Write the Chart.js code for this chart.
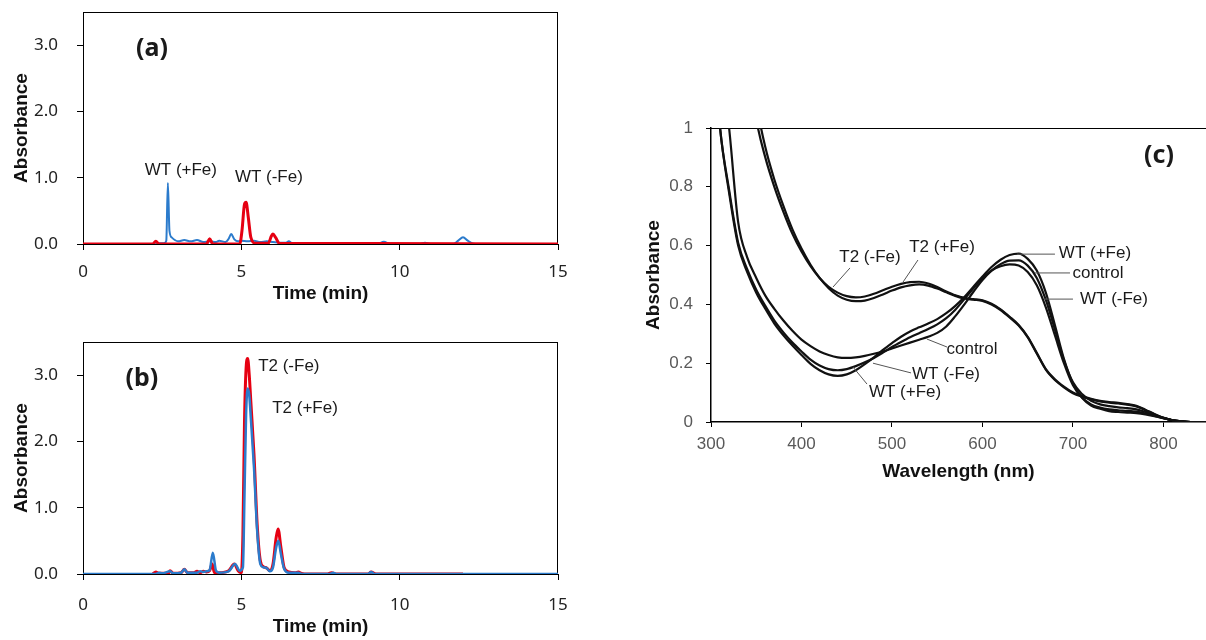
<!DOCTYPE html>
<html>
<head>
<meta charset="utf-8">
<script src="https://cdn.jsdelivr.net/npm/chart.js@4.4.0/dist/chart.umd.min.js"></script>
<style>
body { margin: 0; background: #fff; width: 1206px; height: 640px; overflow: hidden; position: relative; }
canvas { position: absolute; }
#chartA { left: 0; top: 0; }
#chartB { left: 0; top: 330px; }
#chartC { left: 620px; top: 100px; }
</style>
</head>
<body>
<canvas id="chartA" width="600" height="310"></canvas>
<canvas id="chartB" width="600" height="310"></canvas>
<canvas id="chartC" width="586" height="400"></canvas>
<script>
// (a) WT chromatograms
var timeWtPlus = [0, 2.2, 2.3, 2.4, 2.55, 2.63, 2.68, 2.73, 2.8, 2.9, 3.0, 3.2, 3.4, 3.6, 3.8, 4.0, 4.2, 4.3, 4.5, 4.6, 4.68, 4.78, 4.9, 5.0, 5.2, 5.4, 5.6, 5.8, 6.0, 6.2, 6.4, 6.5, 6.6, 7.0, 9.3, 9.5, 9.7, 10.6, 10.8, 11.0, 11.7, 11.85, 12.0, 12.15, 12.3, 12.5, 15];
var absWtPlus  = [0, 0, 0.02, 0.01, 0.01, 0.05, 0.92, 0.2, 0.1, 0.06, 0.04, 0.06, 0.04, 0.06, 0.03, 0.04, 0.03, 0.05, 0.03, 0.08, 0.15, 0.07, 0.04, 0.05, 0.04, 0.05, 0.03, 0.04, 0.03, 0.02, 0.02, 0.04, 0.01, 0, 0, 0.035, 0, 0, 0.02, 0, 0, 0.05, 0.1, 0.05, 0.01, 0, 0];
var timeWtMinus = [0, 2.2, 2.3, 2.4, 3.9, 4.0, 4.1, 4.95, 5.02, 5.1, 5.15, 5.22, 5.3, 5.45, 5.85, 5.95, 6.0, 6.08, 6.2, 15];
var absWtMinus  = [0, 0, 0.04, 0, 0, 0.08, 0, 0, 0.2, 0.6, 0.63, 0.4, 0.1, 0.01, 0.01, 0.12, 0.15, 0.1, 0.01, 0];

// (b) T2 chromatograms
var timeT2Plus = [0, 2.3, 2.4, 2.5, 2.75, 2.85, 3.1, 3.2, 3.3, 3.6, 3.7, 3.8, 3.9, 4.0, 4.1, 4.2, 4.3, 4.6, 4.8, 4.95, 5.05, 5.1, 5.15, 5.2, 5.25, 5.3, 5.4, 5.5, 5.6, 5.7, 5.8, 5.9, 6.0, 6.1, 6.17, 6.25, 6.35, 6.5, 6.7, 6.8, 6.9, 7.8, 7.9, 8.0, 9.0, 9.1, 9.2, 15];
var absT2Plus  = [0, 0, 0.02, 0.01, 0.04, 0.01, 0.02, 0.07, 0.02, 0.02, 0.04, 0.03, 0.04, 0.06, 0.32, 0.05, 0.02, 0.04, 0.15, 0.05, 0.1, 1.2, 2.4, 2.8, 2.7, 2.35, 1.6, 0.65, 0.15, 0.1, 0.09, 0.04, 0.1, 0.4, 0.5, 0.3, 0.08, 0.02, 0.02, 0.02, 0, 0, 0.02, 0, 0, 0.03, 0, 0];
var timeT2Minus = [2.2, 2.3, 2.4, 2.7, 2.75, 2.85, 3.1, 3.2, 3.3, 3.5, 3.6, 3.7, 3.8, 3.9, 4.0, 4.08, 4.15, 4.3, 4.6, 4.78, 4.9, 5.0, 5.05, 5.1, 5.15, 5.2, 5.25, 5.3, 5.4, 5.5, 5.6, 5.7, 5.8, 5.9, 6.0, 6.1, 6.16, 6.25, 6.35, 6.5, 6.7, 6.8, 6.9, 7.1, 7.7, 7.85, 8.0, 9.0, 9.1, 9.25, 12.0];
var absT2Minus  = [0, 0.03, 0.01, 0.01, 0.05, 0.01, 0.02, 0.07, 0.02, 0.02, 0.04, 0.02, 0.04, 0.03, 0.05, 0.15, 0.02, 0.02, 0.05, 0.15, 0.05, 0.02, 0.6, 2.3, 3.1, 3.25, 3.0, 2.6, 1.8, 0.75, 0.2, 0.11, 0.09, 0.05, 0.15, 0.55, 0.68, 0.4, 0.1, 0.03, 0.02, 0.03, 0.01, 0, 0, 0.02, 0, 0, 0.03, 0, 0];

// (c) absorption spectra
var wavelengths = [300, 310, 320, 330, 340, 350, 360, 370, 380, 390, 400, 410, 420, 430, 440, 450, 460, 470, 480, 490, 500, 510, 520, 530, 540, 550, 560, 570, 580, 590, 600, 610, 620, 630, 640, 650, 660, 670, 680, 690, 700, 710, 720, 730, 740, 750, 760, 770, 780, 790, 800, 810, 820, 830, 840, 850];
var specWtPlus  = [1.4, 1.0, 0.78, 0.6, 0.51, 0.44, 0.385, 0.335, 0.295, 0.26, 0.228, 0.198, 0.176, 0.162, 0.157, 0.162, 0.176, 0.197, 0.22, 0.245, 0.268, 0.29, 0.308, 0.322, 0.335, 0.35, 0.37, 0.395, 0.425, 0.46, 0.495, 0.527, 0.552, 0.568, 0.573, 0.555, 0.515, 0.44, 0.33, 0.215, 0.13, 0.082, 0.056, 0.045, 0.037, 0.034, 0.032, 0.03, 0.026, 0.02, 0.013, 0.006, 0.002, 0, 0, 0];
var specWtMinus = [1.4, 1.0, 0.79, 0.61, 0.52, 0.45, 0.395, 0.345, 0.305, 0.27, 0.24, 0.212, 0.192, 0.18, 0.176, 0.18, 0.19, 0.203, 0.218, 0.236, 0.255, 0.272, 0.288, 0.302, 0.316, 0.332, 0.353, 0.382, 0.418, 0.455, 0.49, 0.515, 0.53, 0.536, 0.532, 0.51, 0.465, 0.39, 0.295, 0.2, 0.125, 0.083, 0.06, 0.049, 0.043, 0.04, 0.038, 0.035, 0.029, 0.021, 0.013, 0.006, 0.002, 0, 0, 0];
var specControl = [1.6, 1.25, 1.0, 0.68, 0.56, 0.49, 0.43, 0.385, 0.345, 0.31, 0.28, 0.258, 0.24, 0.228, 0.22, 0.218, 0.22, 0.225, 0.232, 0.24, 0.25, 0.26, 0.27, 0.28, 0.29, 0.303, 0.325, 0.36, 0.4, 0.443, 0.483, 0.515, 0.537, 0.549, 0.55, 0.532, 0.49, 0.415, 0.315, 0.21, 0.135, 0.095, 0.072, 0.06, 0.054, 0.05, 0.047, 0.043, 0.034, 0.024, 0.014, 0.006, 0.002, 0, 0, 0];
var specT2Minus = [3.0, 2.5, 2.0, 1.6, 1.25, 1.03, 0.9, 0.8, 0.715, 0.64, 0.58, 0.53, 0.49, 0.46, 0.44, 0.428, 0.424, 0.427, 0.436, 0.448, 0.46, 0.47, 0.476, 0.477, 0.471, 0.459, 0.444, 0.431, 0.422, 0.418, 0.414, 0.402, 0.383, 0.358, 0.33, 0.29, 0.235, 0.18, 0.145, 0.12, 0.1, 0.088, 0.079, 0.072, 0.068, 0.065, 0.061, 0.055, 0.042, 0.027, 0.014, 0.006, 0.002, 0, 0, 0];
var specT2Plus  = [3.0, 2.6, 2.1, 1.7, 1.35, 1.09, 0.935, 0.825, 0.735, 0.655, 0.59, 0.535, 0.49, 0.455, 0.43, 0.416, 0.411, 0.413, 0.422, 0.434, 0.447, 0.458, 0.465, 0.468, 0.464, 0.454, 0.441, 0.429, 0.42, 0.416, 0.412, 0.4, 0.381, 0.356, 0.328, 0.288, 0.233, 0.178, 0.143, 0.118, 0.098, 0.086, 0.077, 0.07, 0.066, 0.063, 0.059, 0.053, 0.04, 0.026, 0.014, 0.006, 0.002, 0, 0, 0];

var timeTicks = [0, 5, 10, 15];
var absTicks = [0, 1, 2, 3];
var nmTicks = [300, 400, 500, 600, 700, 800];
var specTicks = [0, 0.2, 0.4, 0.6, 0.8, 1];

var RED = '#e60012';
var BLUE = '#2b7bcc';

function pts(xs, ys) {
    return xs.map(function (x, i) { return { x: x, y: ys[i] }; });
}

// keep the plot box where the layout padding says
function noLabelPad(s) {
    s.paddingTop = 0; s.paddingBottom = 0; s.paddingLeft = 0; s.paddingRight = 0;
}

// box lines the axes do not draw
var framePlugin = {
    id: 'frame',
    beforeDatasetsDraw: function (chart, args, opts) {
        var a = chart.chartArea, ctx = chart.ctx, sides = opts.sides || '';
        ctx.save();
        ctx.strokeStyle = '#000';
        ctx.lineWidth = 1;
        ctx.beginPath();
        if (sides.indexOf('top') >= 0) { ctx.moveTo(a.left, a.top + 0.5); ctx.lineTo(a.right, a.top + 0.5); }
        if (sides.indexOf('right') >= 0) { ctx.moveTo(a.right - 0.5, a.top); ctx.lineTo(a.right - 0.5, a.bottom); }
        ctx.stroke();
        ctx.restore();
    }
};

// text labels and leader lines, placed in data units
var notesPlugin = {
    id: 'notes',
    afterDatasetsDraw: function (chart, args, opts) {
        var ctx = chart.ctx, xs = chart.scales.x, ys = chart.scales.y;
        ctx.save();
        (opts.leaders || []).forEach(function (l) {
            ctx.strokeStyle = '#555';
            ctx.lineWidth = 1;
            ctx.beginPath();
            ctx.moveTo(xs.getPixelForValue(l[0]), ys.getPixelForValue(l[1]));
            ctx.lineTo(xs.getPixelForValue(l[2]), ys.getPixelForValue(l[3]));
            ctx.stroke();
        });
        (opts.items || []).forEach(function (t) {
            ctx.font = t.font;
            ctx.fillStyle = '#1a1a1a';
            ctx.textAlign = 'center';
            ctx.textBaseline = 'middle';
            ctx.fillText(t.text, xs.getPixelForValue(t.x), ys.getPixelForValue(t.y));
        });
        ctx.restore();
    }
};

var LABEL_FONT = '17px "Liberation Sans", Arial, sans-serif';
var PANEL_FONT = 'bold 25px "Noto Sans", sans-serif';

function chromOptions(notes, xLabelPad, xTitlePad) {
    return {
        responsive: false,
        animation: false,
        devicePixelRatio: 1,
        layout: { padding: { top: 12, right: 42, left: 0, bottom: 0 } },
        elements: { point: { radius: 0 }, line: { cubicInterpolationMode: 'monotone' } },
        plugins: {
            legend: { display: false },
            tooltip: { enabled: false },
            frame: { sides: 'top right' },
            notes: notes
        },
        scales: {
            x: {
                type: 'linear', min: 0, max: 15,
                afterFit: function (s) { s.height = 66; noLabelPad(s); },
                afterBuildTicks: function (s) { s.ticks = timeTicks.map(function (v) { return { value: v }; }); },
                ticks: { color: '#222', padding: xLabelPad, font: { family: 'Noto Sans', size: 17 } },
                grid: { drawOnChartArea: false, tickLength: 6, color: '#000' },
                border: { color: '#000', width: 1 },
                title: { display: true, text: 'Time (min)', color: '#111', padding: { top: 0, bottom: xTitlePad },
                         font: { family: 'Liberation Sans', size: 19, weight: 'bold' } }
            },
            y: {
                min: 0, max: 3.5,
                afterFit: function (s) { s.width = 83; noLabelPad(s); },
                afterBuildTicks: function (s) { s.ticks = absTicks.map(function (v) { return { value: v }; }); },
                ticks: { color: '#222', padding: 19, font: { family: 'Noto Sans', size: 17 },
                         callback: function (v) { return v.toFixed(1); } },
                grid: { drawOnChartArea: false, tickLength: 6, color: '#000' },
                border: { color: '#000', width: 1 },
                title: { display: true, text: 'Absorbance', color: '#111', padding: { top: 10, bottom: 0 },
                         font: { family: 'Liberation Sans', size: 19, weight: 'bold' } }
            }
        }
    };
}

new Chart(document.getElementById('chartA'), {
    type: 'line',
    data: {
        datasets: [
            { label: 'WT (-Fe)', data: pts(timeWtMinus, absWtMinus), borderColor: RED, borderWidth: 3 },
            { label: 'WT (+Fe)', data: pts(timeWtPlus, absWtPlus), borderColor: BLUE, borderWidth: 2 }
        ]
    },
    options: chromOptions({
        items: [
            { text: '(a)', x: 2.18, y: 2.95, font: PANEL_FONT },
            { text: 'WT (+Fe)', x: 3.09, y: 1.11, font: LABEL_FONT },
            { text: 'WT (-Fe)', x: 5.87, y: 1.01, font: LABEL_FONT }
        ]
    }, 12, 5),
    plugins: [framePlugin, notesPlugin]
});

new Chart(document.getElementById('chartB'), {
    type: 'line',
    data: {
        datasets: [
            { label: 'T2 (+Fe)', data: pts(timeT2Plus, absT2Plus), borderColor: BLUE, borderWidth: 2.5 },
            { label: 'T2 (-Fe)', data: pts(timeT2Minus, absT2Minus), borderColor: RED, borderWidth: 3 }
        ]
    },
    options: chromOptions({
        items: [
            { text: '(b)', x: 1.86, y: 2.95, font: PANEL_FONT },
            { text: 'T2 (-Fe)', x: 6.5, y: 3.14, font: LABEL_FONT },
            { text: 'T2 (+Fe)', x: 7.01, y: 2.5, font: LABEL_FONT }
        ]
    }, 15, 2),
    plugins: [framePlugin, notesPlugin]
});

var specSeries = [specWtPlus, specWtMinus, specControl, specT2Minus, specT2Plus];
var specNames = ['WT (+Fe)', 'WT (-Fe)', 'control', 'T2 (-Fe)', 'T2 (+Fe)'];

new Chart(document.getElementById('chartC'), {
    type: 'line',
    data: {
        datasets: specSeries.map(function (s, i) {
            return { label: specNames[i], data: pts(wavelengths, s), borderColor: '#111', borderWidth: 2.2 };
        })
    },
    options: {
        responsive: false,
        animation: false,
        devicePixelRatio: 1,
        layout: { padding: { top: 28, right: 0, left: 0, bottom: 0 } },
        elements: { point: { radius: 0 }, line: { cubicInterpolationMode: 'monotone' } },
        plugins: {
            legend: { display: false },
            tooltip: { enabled: false },
            frame: { sides: 'top' },
            notes: {
                leaders: [
                    [453.6, 0.524, 434.8, 0.459],
                    [528.7, 0.551, 512.2, 0.476],
                    [680.1, 0.571, 638.1, 0.571],
                    [696.7, 0.507, 658.0, 0.507],
                    [700.0, 0.418, 668.0, 0.418],
                    [560.8, 0.255, 538.7, 0.282],
                    [521.0, 0.167, 479.0, 0.200],
                    [472.4, 0.129, 456.9, 0.187]
                ],
                items: [
                    { text: '(c)', x: 795, y: 0.905, font: PANEL_FONT },
                    { text: 'T2 (-Fe)', x: 475.7, y: 0.561, font: LABEL_FONT },
                    { text: 'T2 (+Fe)', x: 555.3, y: 0.595, font: LABEL_FONT },
                    { text: 'WT (+Fe)', x: 724.3, y: 0.575, font: LABEL_FONT },
                    { text: 'control', x: 727.6, y: 0.507, font: LABEL_FONT },
                    { text: 'WT (-Fe)', x: 745.3, y: 0.418, font: LABEL_FONT },
                    { text: 'control', x: 588.4, y: 0.248, font: LABEL_FONT },
                    { text: 'WT (-Fe)', x: 559.7, y: 0.163, font: LABEL_FONT },
                    { text: 'WT (+Fe)', x: 514.4, y: 0.102, font: LABEL_FONT }
                ]
            }
        },
        scales: {
            x: {
                type: 'linear', min: 300, max: 847,
                afterFit: function (s) { s.height = 78; noLabelPad(s); },
                afterBuildTicks: function (s) { s.ticks = nmTicks.map(function (v) { return { value: v }; }); },
                ticks: { color: '#595959', padding: 7, font: { family: 'Liberation Sans', size: 17 } },
                grid: { drawOnChartArea: false, tickLength: 5, color: '#000' },
                border: { color: '#000', width: 1.5 },
                title: { display: true, text: 'Wavelength (nm)', color: '#111', padding: { top: 0, bottom: 17 },
                         font: { family: 'Liberation Sans', size: 19, weight: 'bold' } }
            },
            y: {
                min: 0, max: 1,
                afterFit: function (s) { s.width = 91; noLabelPad(s); },
                afterBuildTicks: function (s) { s.ticks = specTicks.map(function (v) { return { value: v }; }); },
                ticks: { color: '#595959', padding: 13, font: { family: 'Liberation Sans', size: 17 },
                         callback: function (v) { return String(Math.round(v * 10) / 10); } },
                grid: { drawOnChartArea: false, tickLength: 5, color: '#000' },
                border: { color: '#000', width: 1.5 },
                title: { display: true, text: 'Absorbance', color: '#111', padding: { top: 22, bottom: 0 },
                         font: { family: 'Liberation Sans', size: 19, weight: 'bold' } }
            }
        }
    },
    plugins: [framePlugin, notesPlugin]
});
</script>
</body>
</html>
